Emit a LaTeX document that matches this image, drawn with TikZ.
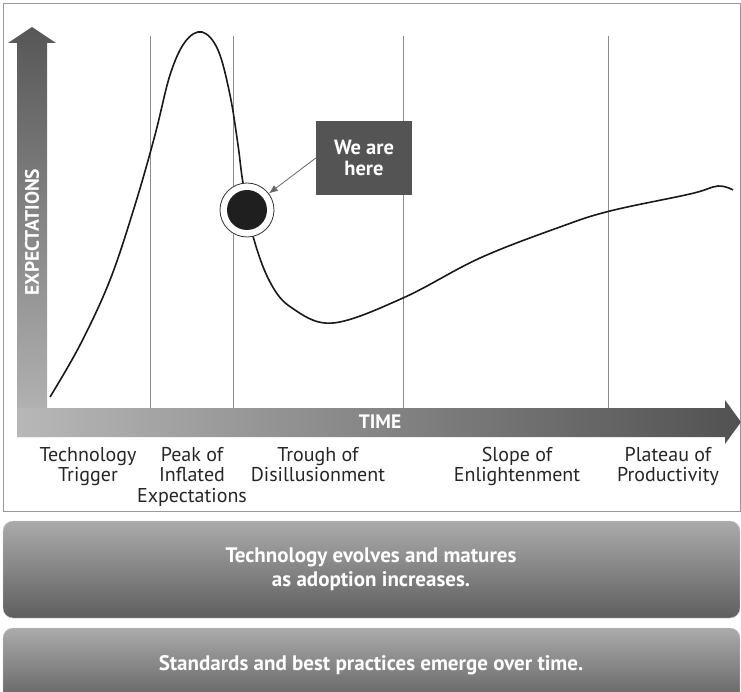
\documentclass[tikz,border=0pt]{standalone}
\usepackage{fontspec}
\setmainfont{PT Sans}
\usetikzlibrary{positioning,calc,arrows.meta}

\tikzset{
  phase/.style={align=center, anchor=north, inner sep=0pt, text=black!85,
    font=\fontsize{20}{20.5}\selectfont},
  divider/.style={black!45, line width=0.8pt},
  banner/.style={rounded corners=10pt, top color=black!33, bottom color=black!63, draw=black!22},
  bannertext/.style={align=center, text=white, font=\bfseries\fontsize{21}{24.5}\selectfont},
  axistext/.style={text=white, font=\bfseries\fontsize{19.5}{20}\selectfont},
}

\begin{document}
\begin{tikzpicture}[x=1pt, y=-1pt]
    \useasboundingbox (0,0) rectangle (741,692);
    \clip (0,0) rectangle (741,692);

    \draw[black!40] (3,3) rectangle (740,511);

    \foreach \xx in {150,233,403,608}
      \draw[divider] (\xx,36) -- (\xx,408);

    \shade[top color=black!66, bottom color=black!28]
      (17,437) -- (17,43) -- (8,43) -- (32,27) -- (56,43) -- (47,43) -- (47,437) -- cycle;
    \shade[left color=black!28, right color=black!68]
      (17,408) -- (725,408) -- (725,400) -- (741,422) -- (725,444) -- (725,437) -- (17,437) -- cycle;
    \node[axistext, rotate=90] (expect) at (32,232) {EXPECTATIONS};
    \node[axistext] (time) at (380,422) {TIME};

    \draw[line width=1.6pt, black!90] plot[smooth, tension=0.6] coordinates {
      (50,397) (80,345) (110,280) (135,205) (155,135) (170,75) (185,42)
      (202,32) (218,50) (230,95) (238,145) (243,183) (253,236)
      (270,282) (292,308) (333,323) (403,298) (480,258)
      (560,227) (610,211) (690,194) (718,186) (733,190)};

    \node[circle, draw=black!80, fill=white, line width=0.8pt, minimum size=54pt] (dot) at (247,210) {};
    \fill[black!88] (dot) circle (20);

    \node[fill=black!67, text=white, minimum width=96pt, minimum height=74pt, align=center,
      font=\bfseries\fontsize{20.5}{21}\selectfont] (here) at (364,158) {We are\\here};
    \draw[black!60, line width=0.8pt, -{Latex[length=9pt,width=7pt]}] (here.west) -- (dot);

    \node[phase] (trigger) at (88,447) {Technology\\Trigger};
    \node[phase] (peak) at (192,447) {Peak of\\Inflated\\Expectations};
    \node[phase] (trough) at (318,447) {Trough of\\Disillusionment};
    \node[phase] (slope) at (517,447) {Slope of\\Enlightenment};
    \node[phase] (plateau) at (668,447) {Plateau of\\Productivity};

    \draw[banner] (3,521) rectangle (740,618);
    \node[bannertext] (evolve) at (371,569) {Technology evolves and matures\\as adoption increases.};
    \draw[banner] (3,628) rectangle (740,706);
    \node[bannertext] (standard) at (371,665) {Standards and best practices emerge over time.};
\end{tikzpicture}
\end{document}
